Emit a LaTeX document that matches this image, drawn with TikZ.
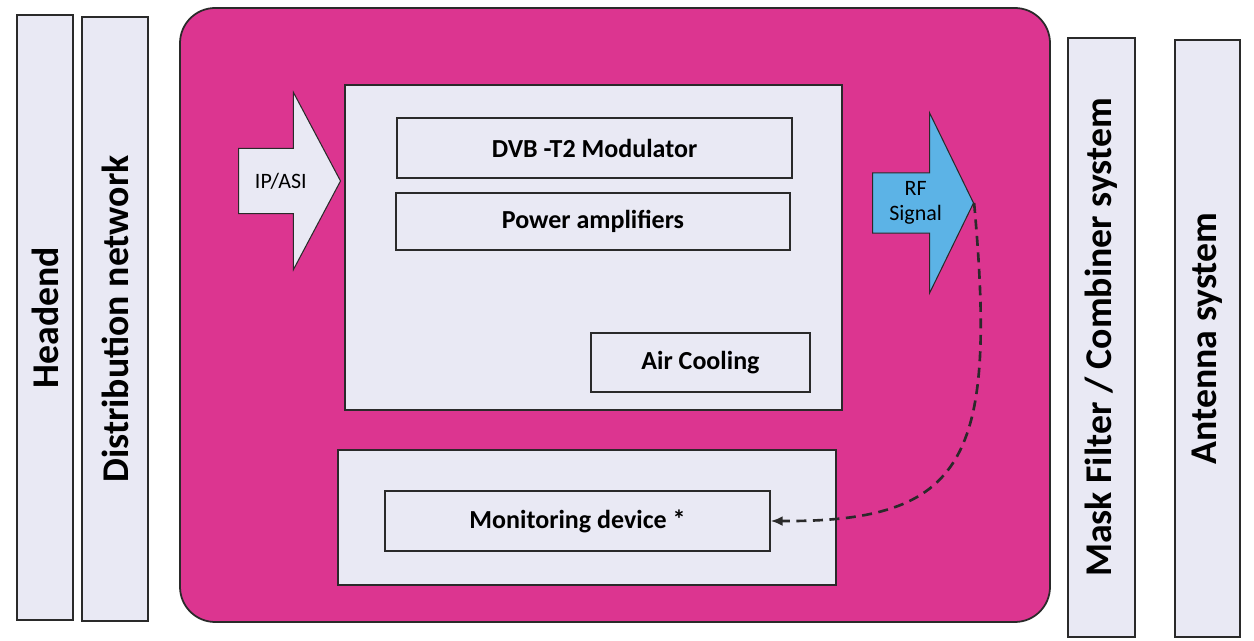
\documentclass[tikz,border=0pt]{standalone}
\usepackage{fontspec}
\setmainfont{Carlito}
\usepackage{tikz}
\usetikzlibrary{arrows.meta,positioning,shapes.arrows}
\usepackage{xcolor}
\definecolor{txPink}{HTML}{DC3590}
\definecolor{txPale}{HTML}{E9E9F4}
\definecolor{txBlue}{HTML}{5CB3E6}
\definecolor{txLine}{HTML}{2A2A2A}
\tikzset{
  sidebar/.style={rectangle, draw=txLine, fill=txPale, line width=0.8pt, rotate=90, inner sep=0pt, font=\fontsize{21.5}{25}\selectfont\bfseries},
  plate/.style={rectangle, rounded corners=20pt, draw=txLine, fill=txPink, line width=1pt},
  panel/.style={rectangle, draw=txLine, fill=txPale, line width=0.8pt},
  unit/.style={rectangle, draw=txLine, fill=txPale, line width=0.8pt, inner sep=0pt, font=\fontsize{14.8}{17}\selectfont\bfseries},
  flow/.style={single arrow, draw=txLine, line width=0.6pt, inner xsep=0pt, anchor=tail, align=center, font=\fontsize{12.5}{14.5}\selectfont},
  arrd/.style={-{Latex[length=2.4mm,width=2mm]}, line width=1.5pt, draw=txLine, dash pattern=on 2mm off 1.3mm}
}
\begin{document}
\begin{tikzpicture}[x=1cm,y=1cm]
  \path[use as bounding box] (0,0) rectangle (25.08,12.82);
  \node[sidebar, minimum width=12.10cm, minimum height=1.12cm] (headend) at (0.90,6.47) {Headend};
  \node[sidebar, minimum width=12.08cm, minimum height=1.32cm] (distnet) at (2.30,6.44) {Distribution network};

  \node[plate, minimum width=17.40cm, minimum height=12.28cm] (tx) at (12.30,6.52) {};
  \node[panel, minimum width=9.94cm, minimum height=6.50cm] (txcore) at (11.87,7.87) {};
  \node[unit, minimum width=7.90cm, minimum height=1.20cm] (mod) at (11.89,9.86) {DVB -T2 Modulator};
  \node[unit, minimum width=7.88cm, minimum height=1.14cm] (pa) at (11.86,8.39) {Power amplifiers};
  \node[unit, minimum width=4.38cm, minimum height=1.18cm] (cool) at (14.01,5.57) {Air Cooling};
  \node[panel, minimum width=9.96cm, minimum height=2.70cm] (monpanel) at (11.74,2.47) {};
  \node[unit, minimum width=7.70cm, minimum height=1.20cm] (mon) at (11.55,2.40) {Monitoring device *};

  \node[flow, fill=txPale, minimum height=2.04cm, inner ysep=0.48cm, single arrow head extend=1.12cm, single arrow tip angle=124] (ipasi) at (4.76,9.20) {IP/ASI};
  \node[flow, fill=txBlue, minimum height=2.02cm, inner ysep=0.16cm, single arrow head extend=1.2cm, single arrow tip angle=128] (rf) at (17.44,8.76) {RF\\Signal};
  \draw[arrd] (rf.tip) .. controls (19.95,3.60) and (19.30,2.38) .. (mon.east);

  \node[sidebar, minimum width=11.98cm, minimum height=1.34cm] (mask) at (22.03,6.07) {Mask Filter / Combiner system};
  \node[sidebar, minimum width=11.94cm, minimum height=1.30cm] (antenna) at (24.15,6.05) {Antenna system};
\end{tikzpicture}
\end{document}
